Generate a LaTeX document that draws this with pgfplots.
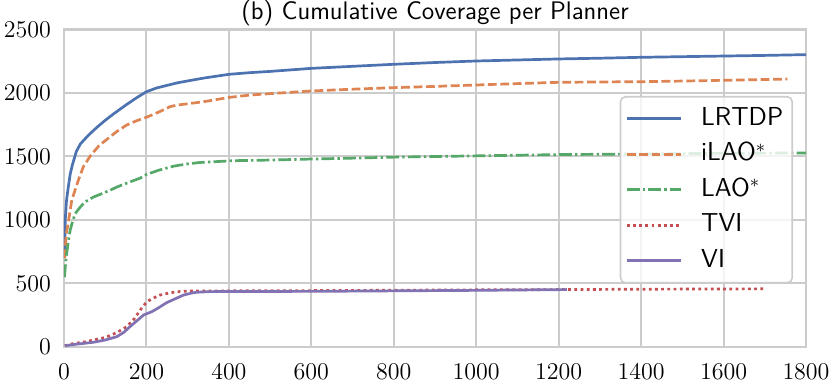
\documentclass[border=0pt]{standalone}
\usepackage{pgfplots}
\pgfplotsset{compat=1.18}
\usetikzlibrary{calc}

\definecolor{sbblue}{HTML}{4C72B0}
\definecolor{sborange}{HTML}{DD8452}
\definecolor{sbgreen}{HTML}{55A868}
\definecolor{sbred}{HTML}{C44E52}
\definecolor{sbpurple}{HTML}{8172B3}
\definecolor{gridgray}{HTML}{CCCCCC}

\begin{document}
\begin{tikzpicture}
\begin{axis}[
    name=ax, scale only axis, width=371pt, height=158.75pt,
    xmin=0, xmax=1800, ymin=0, ymax=2500,
    xtick={0,200,...,1800}, ytick={0,500,...,2500},
    /pgf/number format/set thousands separator={},
    tick label style={font=\fontsize{12}{14}\selectfont},
    xticklabel style={yshift=-5pt},
    yticklabel style={xshift=-3pt},
    major tick length=0pt,
    grid=major, major grid style={draw=gridgray, line width=1pt},
    axis line style={draw=gridgray, line width=1.25pt},
    title={(b) Cumulative Coverage per Planner},
    title style={font=\sffamily\fontsize{12.7}{15}\selectfont,
        at={(0.5,1)}, anchor=base, yshift=-1.25pt, inner sep=0pt},
    legend style={at={(rel axis cs:0.9825,0.7906)}, anchor=north east,
        draw=gridgray, line width=0.8pt, rounded corners=2.5pt,
        fill=white, fill opacity=0.8, draw opacity=1, text opacity=1,
        font=\sffamily\fontsize{13}{15}\selectfont,
        inner xsep=2.5pt, inner ysep=3.25pt, row sep=2.25pt,
        nodes={inner sep=2pt, text height=9pt, text depth=2.5pt},
        /tikz/every odd column/.append style={column sep=7.5pt}},
    legend cell align=left,
    legend image code/.code={\draw[#1] (0pt,0pt) -- (27pt,0pt);},
    every axis plot/.append style={line width=1.35pt, line join=round},
]
\addplot[sbblue] coordinates {
(1,700)(3,1000)(6,1150)(10,1250)(15,1360)(20,1430)(30,1540)(40,1600)
(60,1670)(80,1730)(100,1785)(120,1835)(150,1905)(175,1960)(200,2010)
(225,2040)(250,2060)(275,2080)(300,2095)(340,2118)(400,2147)(450,2160)
(500,2170)(600,2194)(700,2210)(800,2226)(900,2240)(1000,2252)(1100,2260)
(1200,2268)(1300,2274)(1400,2281)(1500,2286)(1600,2291)(1700,2296)(1800,2302)};
\addlegendentry{LRTDP}
\addplot[sborange, dash pattern=on 4.4pt off 1.8pt] coordinates {
(2,700)(5,880)(10,975)(19,1157)(35,1315)(47,1420)(65,1510)(85,1585)
(112,1656)(128,1696)(152,1748)(175,1780)(201,1810)(230,1850)(257,1892)
(274,1905)(300,1915)(338,1931)(402,1966)(452,1984)(500,1995)(600,2016)
(700,2030)(800,2042)(900,2052)(1000,2063)(1100,2074)(1200,2084)(1300,2087)
(1400,2089)(1500,2094)(1600,2100)(1700,2106)(1755,2110)};
\addlegendentry{iLAO$^*$}
\addplot[sbgreen, dash pattern=on 6.4pt off 1.6pt on 1.2pt off 1.6pt] coordinates {
(1,550)(5,700)(10,820)(15,920)(20,980)(27,1050)(39,1100)(50,1140)(71,1180)
(90,1205)(112,1235)(130,1262)(152,1290)(185,1330)(201,1360)(230,1392)
(266,1424)(300,1442)(330,1453)(411,1467)(500,1472)(573,1478)(700,1487)
(800,1495)(900,1500)(1000,1505)(1100,1510)(1200,1515)(1400,1520)(1600,1525)
(1800,1528)};
\addlegendentry{LAO$^*$}
\addplot[sbred, dash pattern=on 1.4pt off 1.7pt] coordinates {
(2,10)(20,25)(50,40)(71,55)(100,75)(120,102)(140,135)(152,160)(170,220)
(185,291)(201,357)(220,390)(233,409)(255,425)(274,435)(300,440)(314,441)
(400,442)(600,444)(800,447)(1000,450)(1200,452)(1400,455)(1600,457)(1700,458)};
\addlegendentry{TVI}
\addplot[sbpurple] coordinates {
(2,10)(30,22)(71,37)(100,55)(128,81)(145,115)(160,160)(180,215)(193,252)
(213,278)(230,310)(249,349)(270,380)(290,409)(310,425)(322,431)(354,436)
(400,437)(600,438)(800,442)(1000,446)(1100,449)(1220,452)};
\addlegendentry{VI}
\end{axis}
\pgfresetboundingbox
\path[use as bounding box] ($(ax.south west)+(-32pt,-19pt)$) rectangle ($(ax.south west)+(383.5pt,173.5pt)$);
\end{tikzpicture}
\end{document}
